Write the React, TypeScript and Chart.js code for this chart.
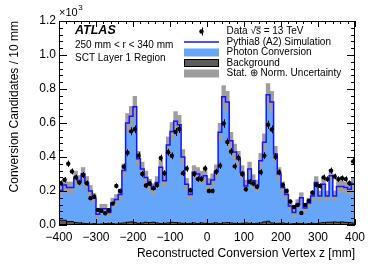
import React, { useEffect, useRef } from 'react';
import { Chart, registerables } from 'chart.js';

Chart.register(...registerables);

// ---------------- data (values in units of 10^3 candidates / 10 mm) ----------------
const binEdges: number[] = Array.from({ length: 81 }, (_, i) => -400 + 10 * i);
const binCenters: number[] = Array.from({ length: 80 }, (_, i) => -395 + 10 * i);

const dataValues: number[] = [
  0.246, 0.266, 0.36, 0.315, 0.28, 0.25, 0.294, 0.246, 0.158, 0.167,
  0.089, 0.083, 0.069, 0.087, 0.126, 0.23, 0.2, 0.343, 0.425, 0.551,
  0.563, 0.408, 0.3, 0.232, 0.244, 0.217, 0.235, 0.394, 0.305, 0.428,
  0.407, 0.547, 0.565, 0.305, 0.332, 0.205, 0.3, 0.27, 0.27, 0.333,
  0.2, 0.2, 0.313, 0.349, 0.597, 0.488, 0.432, 0.345, 0.395, 0.3,
  0.21, 0.254, 0.244, 0.225, 0.31, 0.408, 0.59, 0.562, 0.402, 0.31,
  0.236, 0.2, 0.138, 0.106, 0.118, 0.071, 0.118, 0.142, 0.19, 0.236,
  0.23, 0.28, 0.27, 0.32, 0.285, 0.27, 0.275, 0.27, 0.246, 0.374,
];

const simulationTotal: number[] = [
  0.205, 0.236, 0.22, 0.22, 0.28, 0.256, 0.3, 0.25, 0.2, 0.158,
  0.063, 0.096, 0.096, 0.073, 0.13, 0.15, 0.18, 0.32, 0.6, 0.64,
  0.695, 0.39, 0.33, 0.28, 0.235, 0.21, 0.25, 0.34, 0.26, 0.47,
  0.55, 0.61, 0.59, 0.4, 0.24, 0.18, 0.31, 0.3, 0.28, 0.29,
  0.24, 0.265, 0.315, 0.545, 0.755, 0.723, 0.495, 0.43, 0.39, 0.31,
  0.23, 0.33, 0.26, 0.23, 0.378, 0.487, 0.766, 0.723, 0.418, 0.3,
  0.22, 0.18, 0.112, 0.073, 0.122, 0.16, 0.1, 0.13, 0.17, 0.25,
  0.17, 0.24, 0.17, 0.29, 0.17, 0.226, 0.226, 0.22, 0.21, 0.244,
];

const background: number[] = [
  0.028, 0.028, 0.02, 0.02, 0.014, 0.012, 0.01, 0.008, 0.006, 0.008,
  0.005, 0.006, 0.008, 0.01, 0.008, 0.006, 0.01, 0.012, 0.016, 0.018,
  0.014, 0.01, 0.012, 0.016, 0.014, 0.016, 0.012, 0.008, 0.01, 0.012,
  0.016, 0.014, 0.012, 0.01, 0.008, 0.01, 0.012, 0.008, 0.012, 0.01,
  0.008, 0.01, 0.012, 0.008, 0.012, 0.014, 0.012, 0.01, 0.008, 0.01,
  0.012, 0.01, 0.008, 0.01, 0.012, 0.018, 0.022, 0.012, 0.008, 0.01,
  0.012, 0.008, 0.006, 0.008, 0.01, 0.008, 0.006, 0.008, 0.01, 0.008,
  0.012, 0.014, 0.016, 0.016, 0.018, 0.016, 0.018, 0.016, 0.014, 0.012,
];

const uncertainty: number[] = [
  0.032, 0.034, 0.033, 0.033, 0.037, 0.035, 0.038, 0.035, 0.032, 0.029,
  0.024, 0.026, 0.026, 0.024, 0.028, 0.029, 0.031, 0.039, 0.056, 0.058,
  0.062, 0.043, 0.04, 0.037, 0.034, 0.033, 0.035, 0.04, 0.036, 0.048,
  0.053, 0.057, 0.055, 0.044, 0.034, 0.031, 0.039, 0.038, 0.037, 0.037,
  0.034, 0.036, 0.039, 0.053, 0.065, 0.063, 0.05, 0.046, 0.043, 0.039,
  0.034, 0.04, 0.036, 0.034, 0.043, 0.049, 0.066, 0.063, 0.045, 0.038,
  0.033, 0.031, 0.027, 0.024, 0.027, 0.03, 0.026, 0.028, 0.03, 0.035,
  0.03, 0.034, 0.03, 0.037, 0.03, 0.034, 0.034, 0.033, 0.033, 0.035,
];

const xTickValues: number[] = [-400, -300, -200, -100, 0, 100, 200, 300, 400];
const xTickLabels: string[] = ['\u2212400', '\u2212300', '\u2212200', '\u2212100', '0', '100', '200', '300', '400'];
const yTickValues: number[] = [0, 0.2, 0.4, 0.6, 0.8, 1.0, 1.2];
const yTickLabels: string[] = ['0.0', '0.2', '0.4', '0.6', '0.8', '1.0', '1.2'];

const legendLabels: string[] = [
  'Data \u221As = 13 TeV',
  'Pythia8 (A2) Simulation',
  'Photon Conversion',
  'Background',
  'Stat. \u2295 Norm. Uncertainty',
];
const infoLines: string[] = ['ATLAS', '250 mm < r < 340 mm', 'SCT Layer 1 Region'];

const FONT = "'Liberation Sans', Arial, Helvetica, sans-serif";
const BLUE_FILL = 'rgb(102,166,250)';
const BLUE_LINE = 'rgb(20,20,255)';
const BAND_GREY = 'rgb(158,158,158)';
const BKG_GREY = 'rgb(92,92,92)';

function stepPoints(vals: number[]) {
  const pts = vals.map((v, i) => ({ x: binEdges[i], y: v }));
  pts.push({ x: binEdges[binEdges.length - 1], y: vals[vals.length - 1] });
  return pts;
}

export default function App() {
  const ref = useRef<HTMLCanvasElement>(null);

  useEffect(() => {
    document.body.style.margin = '0';
    const canvas = ref.current;
    if (!canvas) return;

    const overlay = {
      id: 'overlay',
      afterDatasetsDraw(chart: any) {
        const { ctx, chartArea: a } = chart;
        const xs = chart.scales.x;
        const ys = chart.scales.y;
        ctx.save();
        // data error bars (Poisson)
        ctx.strokeStyle = '#000';
        ctx.lineWidth = 1;
        binCenters.forEach((c, i) => {
          const v = dataValues[i];
          const err = Math.sqrt(v * 1000) / 1000;
          const px = Math.round(xs.getPixelForValue(c)) + 0.5;
          ctx.beginPath();
          ctx.moveTo(px, ys.getPixelForValue(v - err));
          ctx.lineTo(px, ys.getPixelForValue(v + err));
          ctx.stroke();
        });
        // frame
        ctx.strokeRect(a.left + 0.5, a.top + 0.5, a.right - a.left - 1, a.bottom - a.top - 1);
        // inner ticks
        const line = (x1: number, y1: number, x2: number, y2: number) => {
          ctx.beginPath();
          ctx.moveTo(x1, y1);
          ctx.lineTo(x2, y2);
          ctx.stroke();
        };
        for (let v = xs.min; v <= xs.max + 1e-6; v += 20) {
          const px = Math.round(xs.getPixelForValue(v)) + 0.5;
          const major = Math.abs(v % 100) < 1e-6;
          const len = major ? 6 : 3;
          line(px, a.bottom, px, a.bottom - len);
          line(px, a.top, px, a.top + len);
        }
        for (let k = 0; k <= 30; k++) {
          const v = k * 0.04;
          const py = Math.round(ys.getPixelForValue(v)) + 0.5;
          const len = k % 5 === 0 ? 8 : 4;
          line(a.left, py, a.left + len, py);
          line(a.right, py, a.right - len, py);
        }
        ctx.restore();
      },
      afterDraw(chart: any) {
        const { ctx, chartArea: a } = chart;
        ctx.save();
        ctx.fillStyle = '#000';
        ctx.textAlign = 'left';
        // x10^3
        ctx.font = `11px ${FONT}`;
        ctx.textBaseline = 'alphabetic';
        ctx.fillText('\u00D710', a.left, 15.5);
        const w10 = ctx.measureText('\u00D710').width;
        ctx.font = `8px ${FONT}`;
        ctx.fillText('3', a.left + w10 + 0.5, 10);
        // ATLAS info
        ctx.textBaseline = 'middle';
        ctx.font = `italic bold 12.5px ${FONT}`;
        ctx.fillText(infoLines[0], 75, 31);
        ctx.font = `10px ${FONT}`;
        ctx.fillText(infoLines[1], 75, 45);
        ctx.fillText(infoLines[2], 75, 58.5);
        // legend
        const symL = 184;
        const symR = 219;
        const textX = 226.5;
        const rowY = [31.5, 42, 52.5, 63, 73.5];
        ctx.font = `10px ${FONT}`;
        legendLabels.forEach((lab, i) => {
          ctx.fillStyle = '#000';
          ctx.fillText(lab, textX, rowY[i]);
        });
        // overline for sqrt(s)
        const pre = ctx.measureText('Data \u221A').width;
        const sw = ctx.measureText('s').width;
        ctx.strokeStyle = '#000';
        ctx.lineWidth = 0.8;
        ctx.beginPath();
        ctx.moveTo(textX + pre - 1, rowY[0] - 4.5);
        ctx.lineTo(textX + pre + sw, rowY[0] - 4.5);
        ctx.stroke();
        // data marker
        const mx = (symL + symR) / 2;
        ctx.fillStyle = '#000';
        ctx.beginPath();
        ctx.arc(mx, rowY[0], 2.2, 0, Math.PI * 2);
        ctx.fill();
        ctx.lineWidth = 1;
        ctx.beginPath();
        ctx.moveTo(Math.round(mx) + 0.5, rowY[0] - 4);
        ctx.lineTo(Math.round(mx) + 0.5, rowY[0] + 4);
        ctx.stroke();
        // simulation line
        ctx.strokeStyle = BLUE_LINE;
        ctx.lineWidth = 1.5;
        ctx.beginPath();
        ctx.moveTo(symL, rowY[1]);
        ctx.lineTo(symR, rowY[1]);
        ctx.stroke();
        // boxes
        const bh = 8;
        ctx.fillStyle = BLUE_FILL;
        ctx.fillRect(symL, rowY[2] - bh / 2, symR - symL, bh);
        ctx.fillStyle = BKG_GREY;
        ctx.fillRect(symL, rowY[3] - bh / 2, symR - symL, bh);
        ctx.strokeStyle = '#000';
        ctx.lineWidth = 1;
        ctx.strokeRect(symL + 0.5, rowY[3] - bh / 2 + 0.5, symR - symL - 1, bh - 1);
        ctx.fillStyle = BAND_GREY;
        ctx.fillRect(symL, rowY[4] - bh / 2, symR - symL, bh);
        ctx.restore();
      },
    };

    const chart = new Chart(canvas, {
      type: 'line',
      data: {
        datasets: [
          {
            type: 'line',
            label: 'Photon Conversion',
            data: stepPoints(simulationTotal),
            stepped: 'before',
            fill: 'origin',
            backgroundColor: BLUE_FILL,
            borderWidth: 0,
            pointRadius: 0,
            order: 5,
          },
          {
            type: 'bar',
            label: 'Stat. \u2295 Norm. Uncertainty',
            data: binCenters.map((c, i) => ({
              x: c,
              y: [simulationTotal[i] - uncertainty[i], simulationTotal[i] + uncertainty[i]],
            })),
            backgroundColor: BAND_GREY,
            borderWidth: 0,
            barPercentage: 1,
            categoryPercentage: 1,
            grouped: false,
            order: 4,
          },
          {
            type: 'line',
            label: 'Pythia8 (A2) Simulation',
            data: stepPoints(simulationTotal),
            stepped: 'before',
            fill: false,
            borderColor: BLUE_LINE,
            borderWidth: 1.5,
            pointRadius: 0,
            order: 3,
          },
          {
            type: 'line',
            label: 'Background',
            data: stepPoints(background),
            stepped: 'before',
            fill: 'origin',
            backgroundColor: BKG_GREY,
            borderColor: '#000',
            borderWidth: 1,
            pointRadius: 0,
            order: 2,
          },
          {
            type: 'scatter',
            label: 'Data',
            data: binCenters.map((c, i) => ({ x: c, y: dataValues[i] })),
            backgroundColor: '#000',
            borderWidth: 0,
            pointRadius: 2.2,
            order: 1,
          },
        ] as any,
      },
      options: {
        responsive: false,
        animation: false,
        devicePixelRatio: 1,
        layout: { padding: { top: 21, right: 19, left: 0, bottom: 0 } },
        plugins: { legend: { display: false }, tooltip: { enabled: false } },
        scales: {
          x: {
            type: 'linear',
            min: -400,
            max: 400,
            offset: false,
            grid: { display: false, drawTicks: false, offset: false },
            border: { display: false },
            afterFit: (s: any) => { s.height = 43; },
            afterBuildTicks: (s: any) => { s.ticks = xTickValues.map((v) => ({ value: v })); },
            ticks: {
              autoSkip: false,
              maxRotation: 0,
              padding: 5,
              color: '#000',
              font: { family: FONT, size: 12 },
              callback: (v: any) => xTickLabels[xTickValues.indexOf(Number(v))] ?? '',
            },
            title: {
              display: true,
              text: 'Reconstructed Conversion Vertex z [mm]',
              align: 'end',
              color: '#000',
              font: { family: FONT, size: 12 },
              padding: { top: 0, bottom: 7 },
            },
          },
          y: {
            type: 'linear',
            min: 0,
            max: 1.2,
            grid: { display: false, drawTicks: false },
            border: { display: false },
            afterFit: (s: any) => { s.width = 59; },
            afterBuildTicks: (s: any) => { s.ticks = yTickValues.map((v) => ({ value: v })); },
            ticks: {
              padding: 3,
              color: '#000',
              font: { family: FONT, size: 12 },
              callback: (v: any) => {
                const idx = yTickValues.findIndex((t) => Math.abs(t - Number(v)) < 1e-6);
                return idx >= 0 ? yTickLabels[idx] : '';
              },
            },
            title: {
              display: true,
              text: 'Conversion Candidates / 10 mm',
              align: 'end',
              color: '#000',
              font: { family: FONT, size: 12 },
              padding: { top: 7, bottom: 0 },
            },
          },
        },
      } as any,
      plugins: [overlay],
    });

    return () => chart.destroy();
  }, []);

  return <canvas ref={ref} width={374} height={268} style={{ display: 'block', width: 374, height: 268 }} />;
}
